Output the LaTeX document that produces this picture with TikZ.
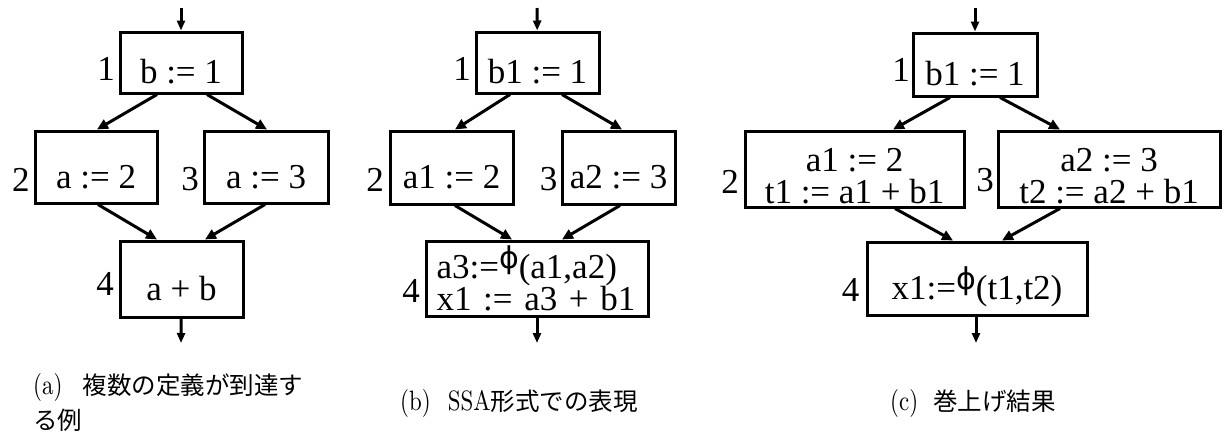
\documentclass[tikz,border=0pt]{standalone}
\usepackage{fontspec}
\usepackage{graphicx}
\usetikzlibrary{arrows.meta}
\newfontfamily\tms{Liberation Serif}
\newfontfamily\cjk{Noto Sans CJK JP}
\newfontfamily\djv{DejaVu Sans}
\newfontfamily\lmr{lmroman10-regular}[Extension=.otf, FakeStretch=0.82]
\newcommand\myphi{\raisebox{10pt}{\fontsize{30}{30}\selectfont\djv ϕ}}
\newcommand\cj[1]{{\cjk\fontsize{24.5}{35.5}\selectfont #1}}
\begin{document}
\begin{tikzpicture}[x=1pt,y=-1pt,
  blk/.style={draw, line width=3pt, inner sep=0pt, font={\tms\fontsize{35}{33}\selectfont}, text height=42pt, text depth=0pt},
  blktwo/.style={draw, line width=3pt, inner sep=0pt, font={\tms\fontsize{35}{32}\selectfont}},
  num/.style={inner sep=0pt, font={\tms\fontsize{35}{33}\selectfont}},
  conn/.style={line width=3pt, -{Triangle[length=11pt,width=10pt]}},
  io/.style={line width=3pt, -{Triangle[length=10pt,width=8pt]}},
  captxt/.style={inner sep=0pt, font={\lmr\fontsize{28}{35.5}\selectfont}}]
\useasboundingbox (0,0) rectangle (1224,432);

% ---------- panel (a)
\node[blk, minimum width=122pt, minimum height=61pt] (A1) at (181,62.5) {b := 1};
\node[blk, minimum width=122pt, minimum height=72pt] (A2) at (96,167) {a := 2};
\node[blk, minimum width=124pt, minimum height=72pt] (A3) at (266,167) {a := 3};
\node[blk, minimum width=123pt, minimum height=76pt] (A4) at (181.5,279) {a + b};
\node[num] (a1n) at (106,69) {1};
\node[num] (a2n) at (21,179.5) {2};
\node[num] (a3n) at (190,179.5) {3};
\node[num] (a4n) at (105,284) {4};
\coordinate (ain) at (181,8);
\coordinate (aout) at (181,343);
\draw[io] (ain) -- (A1);
\draw[io] (A4) -- (aout);
\draw[conn] ([xshift=-24pt]A1.south) -- ([xshift=1pt]A2.north);
\draw[conn] ([xshift=26pt]A1.south) -- ([xshift=1pt]A3.north);
\draw[conn] ([xshift=2pt]A2.south) -- ([xshift=-24.5pt]A4.north);
\draw[conn] ([xshift=-1pt]A3.south) -- ([xshift=23.5pt]A4.north);

% ---------- panel (b)
\node[blk, minimum width=123pt, minimum height=61pt] (B1) at (537.5,62.5) {b1 := 1};
\node[blk, minimum width=123pt, minimum height=73pt] (B2) at (451.5,167.5) {a1 := 2};
\node[blk, minimum width=113pt, minimum height=73pt] (B3) at (618.5,167.5) {a2 := 3};
\node[blktwo, minimum width=222pt, minimum height=75pt, text width=201pt, align=left] (B4) at (537,278.5)
  {\rule{0pt}{27pt}a3:=\myphi(a1,a2)\\x1 := a3 + b1};
\node[num] (b1n) at (462,68.5) {1};
\node[num] (b2n) at (375,179.5) {2};
\node[num] (b3n) at (548.5,179.5) {3};
\node[num] (b4n) at (411,291) {4};
\coordinate (bin) at (537,8);
\coordinate (bout) at (537,343);
\draw[io] (bin) -- (B1);
\draw[io] (B4) -- (bout);
\draw[conn] ([xshift=-27.5pt]B1.south) -- ([xshift=3.5pt]B2.north);
\draw[conn] ([xshift=24.5pt]B1.south) -- ([xshift=3.5pt]B3.north);
\draw[conn] ([xshift=3.5pt]B2.south) -- ([xshift=-25pt]B4.north);
\draw[conn] ([xshift=1.5pt]B3.south) -- ([xshift=25pt]B4.north);

% ---------- panel (c)
\node[blk, minimum width=124pt, minimum height=63pt] (C1) at (975,64.5) {b1 := 1};
\node[blktwo, minimum width=219pt, minimum height=76pt, align=center] (C2) at (854.5,169)
  {\rule{0pt}{37pt}a1 := 2\\t1 := a1 + b1};
\node[blktwo, minimum width=222pt, minimum height=76pt, align=center] (C3) at (1109,169)
  {\rule{0pt}{37pt}a2 := 3\\t2 := a2 + b1};
\node[blk, minimum width=220pt, minimum height=73pt] (C4) at (977,278.5) {x1:=\myphi(t1,t2)};
\node[num] (c1n) at (901,70) {1};
\node[num] (c2n) at (730,181.5) {2};
\node[num] (c3n) at (985,180) {3};
\node[num] (c4n) at (850.5,289.5) {4};
\coordinate (cin) at (975,8);
\coordinate (cout) at (976,343);
\draw[io] (cin) -- (C1);
\draw[io] (C4.south -| cout) -- (cout);
\draw[conn] ([xshift=-25pt]C1.south) -- ([xshift=38.5pt]C2.north);
\draw[conn] ([xshift=25pt]C1.south) -- ([xshift=-49pt]C3.north);
\draw[conn] ([xshift=40.5pt]C2.south) -- ([xshift=-24pt]C4.north);
\draw[conn] ([xshift=-49pt]C3.south) -- ([xshift=25pt]C4.north);

% ---------- captions
\node[captxt, anchor=north west, align=left] (capa) at (33,373)
  {(a)\hspace{20pt}\cj{複数の定義が到達す}\\\cj{る例}};
\node[captxt, anchor=base west] (capb) at (400,410)
  {(b)\hspace{17pt}SSA\cj{形式での表現}};
\node[captxt, anchor=base west] (capc) at (890,410)
  {(c)\hspace{15pt}\cj{巻上げ結果}};
\end{tikzpicture}
\end{document}
